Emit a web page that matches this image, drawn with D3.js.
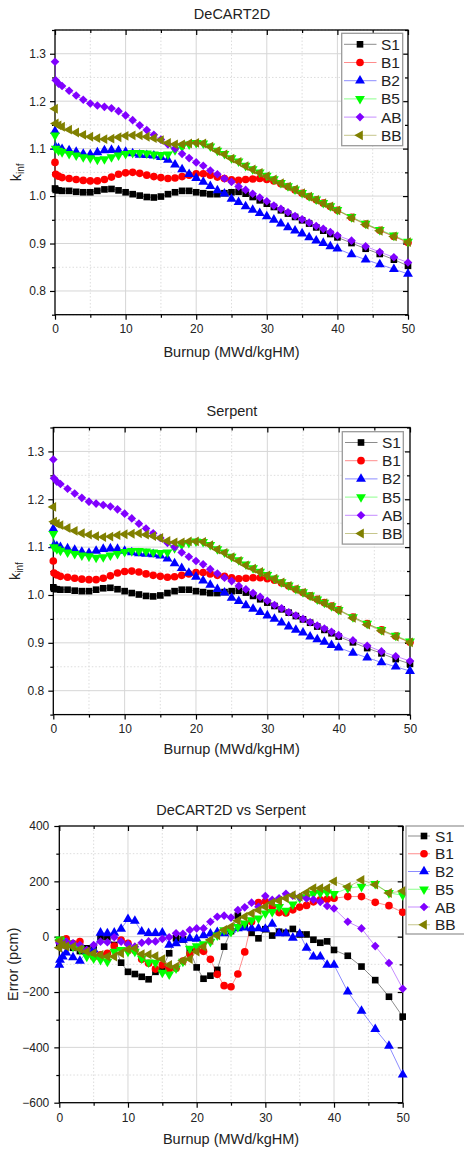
<!DOCTYPE html>
<html><head><meta charset="utf-8">
<script src="https://cdn.jsdelivr.net/npm/d3@7"></script>
<style>
body{margin:0;background:#fff}
svg{display:block}
text{font-family:"Liberation Sans",Arial,sans-serif;fill:#222}
</style>
</head><body>
<svg id="c" width="464" height="1151"></svg>
<script>
// ---------- DATA ----------
const burnup = [0,0.1,0.5,1,2,3,4,5,6,7,8,9,10,11,12,13,14,15,16,17,18,19,20,21,22,23,24,25,26,27,28,29,30,31,32,33,34,35,36,37,38,39,40,42,44,46,48,50];
const seriesNames = ["S1","B1","B2","B5","AB","BB"];
const xTicks = [0,10,20,30,40,50];
const kinfTicks = [0.8,0.9,1.0,1.1,1.2,1.3];
const errTicks = [-600,-400,-200,0,200,400];

// DeCART2D kinf
const decartS1 = [1.016,1.013,1.012,1.011,1.011,1.009,1.008,1.008,1.011,1.014,1.015,1.012,1.008,1.004,1.001,0.998,0.997,0.999,1.004,1.008,1.011,1.011,1.008,1.006,1.004,1.004,1.006,1.008,1.009,1.005,0.998,0.991,0.984,0.977,0.970,0.963,0.956,0.949,0.942,0.934,0.927,0.920,0.913,0.901,0.889,0.878,0.866,0.853];
const decartB1 = [1.071,1.046,1.042,1.039,1.037,1.035,1.033,1.032,1.032,1.035,1.040,1.046,1.049,1.050,1.048,1.044,1.041,1.039,1.037,1.038,1.041,1.044,1.047,1.047,1.044,1.040,1.037,1.034,1.033,1.035,1.036,1.037,1.035,1.032,1.026,1.020,1.013,1.006,0.999,0.992,0.985,0.978,0.970,0.955,0.941,0.928,0.915,0.902];
const decartB2 = [1.137,1.103,1.101,1.099,1.096,1.093,1.089,1.088,1.092,1.096,1.097,1.096,1.093,1.090,1.087,1.086,1.085,1.082,1.076,1.066,1.056,1.046,1.038,1.030,1.021,1.012,1.005,0.994,0.987,0.978,0.971,0.964,0.957,0.950,0.942,0.934,0.927,0.921,0.913,0.906,0.901,0.894,0.889,0.877,0.866,0.856,0.846,0.836];
const decartB5 = [1.128,1.100,1.096,1.093,1.089,1.086,1.082,1.080,1.077,1.078,1.082,1.086,1.089,1.091,1.091,1.090,1.088,1.087,1.088,1.097,1.104,1.109,1.112,1.111,1.105,1.096,1.089,1.080,1.073,1.064,1.057,1.050,1.043,1.036,1.028,1.021,1.014,1.007,1.000,0.993,0.986,0.979,0.971,0.956,0.942,0.929,0.917,0.904];
const decartAB = [1.283,1.244,1.237,1.232,1.222,1.212,1.203,1.195,1.191,1.188,1.185,1.179,1.170,1.160,1.149,1.139,1.129,1.119,1.109,1.100,1.089,1.080,1.071,1.064,1.054,1.046,1.037,1.030,1.020,1.013,1.005,0.997,0.989,0.980,0.973,0.966,0.958,0.951,0.944,0.937,0.931,0.924,0.917,0.906,0.894,0.882,0.871,0.860];
const decartBB = [1.184,1.153,1.149,1.146,1.140,1.134,1.129,1.125,1.122,1.120,1.121,1.124,1.127,1.128,1.128,1.125,1.122,1.118,1.112,1.109,1.109,1.111,1.112,1.111,1.104,1.095,1.088,1.079,1.072,1.063,1.056,1.049,1.042,1.035,1.027,1.020,1.014,1.006,0.999,0.992,0.985,0.978,0.970,0.954,0.940,0.927,0.915,0.903];

// Serpent kinf
const serpentS1 = [1.016,1.013,1.012,1.011,1.011,1.009,1.008,1.008,1.011,1.014,1.015,1.012,1.008,1.004,1.001,0.998,0.997,0.999,1.004,1.008,1.011,1.011,1.008,1.006,1.004,1.004,1.006,1.008,1.009,1.005,0.998,0.991,0.984,0.977,0.970,0.963,0.956,0.949,0.942,0.934,0.927,0.920,0.913,0.901,0.889,0.878,0.866,0.856];
const serpentB1 = [1.071,1.046,1.042,1.039,1.037,1.035,1.033,1.032,1.032,1.035,1.040,1.046,1.049,1.050,1.048,1.044,1.041,1.039,1.037,1.038,1.041,1.044,1.047,1.047,1.044,1.041,1.039,1.036,1.034,1.035,1.036,1.036,1.034,1.031,1.025,1.019,1.012,1.005,0.998,0.991,0.984,0.977,0.969,0.954,0.940,0.927,0.914,0.901];
const serpentB2 = [1.138,1.104,1.102,1.100,1.097,1.094,1.090,1.088,1.092,1.096,1.097,1.096,1.092,1.089,1.087,1.086,1.085,1.082,1.076,1.066,1.056,1.046,1.038,1.030,1.021,1.012,1.005,0.994,0.987,0.978,0.971,0.964,0.957,0.950,0.942,0.934,0.927,0.921,0.913,0.907,0.902,0.895,0.890,0.879,0.869,0.859,0.850,0.841];
const serpentB5 = [1.128,1.100,1.096,1.093,1.089,1.086,1.083,1.081,1.078,1.079,1.083,1.086,1.090,1.092,1.092,1.091,1.089,1.088,1.089,1.098,1.105,1.109,1.112,1.111,1.105,1.096,1.089,1.080,1.073,1.064,1.056,1.049,1.042,1.035,1.027,1.020,1.013,1.006,0.999,0.991,0.984,0.977,0.969,0.954,0.940,0.927,0.915,0.903];
const serpentAB = [1.283,1.244,1.237,1.232,1.222,1.212,1.203,1.195,1.191,1.188,1.185,1.179,1.170,1.160,1.149,1.139,1.129,1.119,1.109,1.100,1.089,1.080,1.071,1.064,1.054,1.045,1.036,1.029,1.019,1.012,1.004,0.996,0.988,0.979,0.972,0.964,0.957,0.950,0.943,0.936,0.930,0.923,0.916,0.905,0.894,0.882,0.872,0.862];
const serpentBB = [1.184,1.153,1.149,1.146,1.140,1.134,1.129,1.126,1.123,1.121,1.122,1.125,1.127,1.128,1.129,1.126,1.123,1.119,1.113,1.110,1.110,1.112,1.112,1.111,1.104,1.095,1.088,1.079,1.071,1.062,1.055,1.048,1.041,1.034,1.026,1.019,1.012,1.005,0.997,0.990,0.983,0.976,0.968,0.952,0.938,0.925,0.913,0.901];

// DeCART2D vs Serpent error (pcm)
const errS1 = [-30,-20,-25,-30,-40,-52,-42,-46,-2,-2,-30,-94,-127,-135,-145,-154,-127,-115,-60,-6,-10,-50,-111,-152,-141,-120,-36,20,76,40,14,-6,27,4,18,14,28,8,8,-11,-22,-17,-48,-69,-108,-157,-217,-289];
const errB1 = [-15,-20,-12,-8,-25,-18,-50,-73,-66,-60,-34,-12,-24,-50,-82,-96,-117,-102,-117,-114,-88,-63,-48,-53,-82,-136,-177,-181,-135,-55,54,123,127,108,87,86,97,107,113,126,133,135,139,145,145,124,112,88];
const errB2 = [-102,-84,-72,-58,-75,-88,-54,-46,14,12,14,28,63,57,18,13,13,14,-30,-24,-12,-6,-8,5,11,16,12,25,30,33,30,30,28,46,12,12,-4,10,-41,-72,-72,-102,-102,-199,-268,-334,-395,-499];
const errB5 = [-18,-10,-15,-22,-36,-45,-72,-78,-84,-90,-54,-48,-54,-54,-78,-93,-94,-130,-136,-114,-90,-43,-34,-27,-19,5,24,18,36,48,60,66,84,90,108,94,117,140,143,155,158,160,155,175,181,191,158,150];
const errAB = [-22,-25,-28,-18,-24,-30,-48,-30,-18,-20,-2,-18,-27,-36,-22,-17,-17,-8,-2,12,10,24,30,30,54,72,76,69,96,106,123,108,147,133,139,155,148,143,138,134,126,111,102,54,30,-34,-95,-188];
const errBB = [-40,-15,-30,-35,-36,-45,-54,-60,-66,-72,-72,-60,-46,-42,-63,-64,-70,-81,-102,-108,-87,-81,-54,-36,-12,5,24,36,58,72,84,96,108,123,130,139,150,145,160,175,175,175,200,180,205,188,158,165];

// ---------- STYLE ----------
const colors = {S1:"#000000",B1:"#ff0000",B2:"#0000ff",B5:"#00ff00",AB:"#8000ff",BB:"#808000"};
const sq = d3.symbol().type(d3.symbolSquare).size(44)();
const circ = d3.symbol().type(d3.symbolCircle).size(46)();
const tri = d3.symbol().type(d3.symbolTriangle).size(42)();
const markers = {
  S1:{d:sq,rot:0}, B1:{d:circ,rot:0}, B2:{d:tri,rot:0},
  B5:{d:tri,rot:180}, AB:{d:sq,rot:45,scale:0.92}, BB:{d:tri,rot:-90}
};

const svg = d3.select("#c");

function drawPanel(o){
  const g = svg.append("g");
  const x = d3.scaleLinear().domain([0,50]).range([o.x0,o.x1]);
  const y = d3.scaleLinear().domain(o.yDomain).range([o.y1,o.y0]);
  // grid
  const minorX = [5,15,25,35,45];
  g.append("g").selectAll("line").data(minorX).join("line")
    .attr("x1",d=>x(d)).attr("x2",d=>x(d)).attr("y1",o.y0).attr("y2",o.y1)
    .attr("stroke","#d4d4d4").attr("stroke-width",0.8).attr("stroke-dasharray","1.5,2");
  g.append("g").selectAll("line").data(o.yMinor).join("line")
    .attr("y1",d=>y(d)).attr("y2",d=>y(d)).attr("x1",o.x0).attr("x2",o.x1)
    .attr("stroke","#d4d4d4").attr("stroke-width",0.8).attr("stroke-dasharray","1.5,2");
  g.append("g").selectAll("line").data(xTicks.slice(1,-1)).join("line")
    .attr("x1",d=>x(d)).attr("x2",d=>x(d)).attr("y1",o.y0).attr("y2",o.y1)
    .attr("stroke","#d6d6d6").attr("stroke-width",1);
  g.append("g").selectAll("line").data(o.yTicks.filter(t=>y(t)>o.y0+1&&y(t)<o.y1-1)).join("line")
    .attr("y1",d=>y(d)).attr("y2",d=>y(d)).attr("x1",o.x0).attr("x2",o.x1)
    .attr("stroke","#d6d6d6").attr("stroke-width",1);

  // axes
  const styleAxis = sel=>{sel.select(".domain").remove();sel.selectAll("line").attr("stroke","#000").attr("stroke-width",1.2);
    sel.selectAll("text").style("font-size","12px").attr("fill","#222");};
  g.append("g").attr("transform",`translate(0,${o.y1})`)
    .call(d3.axisBottom(x).tickValues(xTicks).tickSize(5).tickPadding(o.xPad).tickFormat(d3.format("d"))).call(styleAxis);
  g.append("g").attr("transform",`translate(0,${o.y1})`)
    .call(d3.axisBottom(x).tickValues(minorX).tickSize(3).tickFormat("")).call(styleAxis);
  g.append("g").attr("transform",`translate(0,${o.y0})`)
    .call(d3.axisTop(x).tickValues(xTicks).tickSize(-5).tickFormat("")).call(styleAxis);
  g.append("g").attr("transform",`translate(0,${o.y0})`)
    .call(d3.axisTop(x).tickValues(minorX).tickSize(-3).tickFormat("")).call(styleAxis);
  g.append("g").attr("transform",`translate(${o.x0},0)`)
    .call(d3.axisLeft(y).tickValues(o.yTicks).tickSize(5).tickPadding(o.yPad).tickFormat(o.yFormat)).call(styleAxis);
  g.append("g").attr("transform",`translate(${o.x0},0)`)
    .call(d3.axisLeft(y).tickValues(o.yMinor).tickSize(3).tickFormat("")).call(styleAxis);
  g.append("g").attr("transform",`translate(${o.x1},0)`)
    .call(d3.axisRight(y).tickValues(o.yTicks).tickSize(-5).tickFormat("")).call(styleAxis);
  g.append("g").attr("transform",`translate(${o.x1},0)`)
    .call(d3.axisRight(y).tickValues(o.yMinor).tickSize(-3).tickFormat("")).call(styleAxis);
  g.append("rect").attr("x",o.x0).attr("y",o.y0).attr("width",o.x1-o.x0).attr("height",o.y1-o.y0)
    .attr("fill","none").attr("stroke","#000").attr("stroke-width",1.3);

  // series
  const line = d3.line().x((d,i)=>x(burnup[i])).y(d=>y(d));
  o.series.forEach((vals,si)=>{
    const name = seriesNames[si], c = colors[name], m = markers[name];
    g.append("path").datum(vals).attr("d",line).attr("fill","none")
      .attr("stroke",c).attr("stroke-opacity",0.45).attr("stroke-width",1);
    g.append("g").selectAll("path").data(vals).join("path")
      .attr("d",m.d).attr("fill",c)
      .attr("transform",(d,i)=>`translate(${x(burnup[i])},${y(d)}) rotate(${m.rot}) scale(${m.scale||1})`);
  });

  // title
  g.append("text").attr("x",o.titleX).attr("y",o.titleY).attr("text-anchor","middle")
    .style("font-size","14.5px").text(o.title);
  // x label
  g.append("text").attr("x",(o.x0+o.x1)/2).attr("y",o.xLabelY).attr("text-anchor","middle")
    .style("font-size","14.5px").text("Burnup (MWd/kgHM)");
  // y label
  const yl = g.append("text").attr("transform",`translate(${o.yLabelX},${(o.y0+o.y1)/2}) rotate(-90)`)
    .attr("text-anchor","middle").style("font-size","14.5px");
  if(o.kinf){
    yl.append("tspan").text("k");
    yl.append("tspan").attr("dy","0.3em").style("font-size","10px").text("inf");
  } else yl.text("Error (pcm)");

  // legend
  const L = o.legend;
  g.append("rect").attr("x",L.x).attr("y",L.y).attr("width",L.w).attr("height",L.h)
    .attr("fill","#fff").attr("stroke","#9a9a9a").attr("stroke-width",1.3);
  seriesNames.forEach((name,i)=>{
    const cy = L.row0 + i*L.step, c = colors[name], m = markers[name];
    g.append("line").attr("x1",L.l0).attr("x2",L.l1).attr("y1",cy).attr("y2",cy)
      .attr("stroke",c).attr("stroke-opacity",0.45).attr("stroke-width",1);
    g.append("path").attr("d",m.d).attr("fill",c)
      .attr("transform",`translate(${L.mx},${cy}) rotate(${m.rot}) scale(${m.scale||1})`);
    g.append("text").attr("x",L.tx).attr("y",cy).attr("dy","0.36em")
      .style("font-size","15.5px").text(name);
  });
}

const kMinor = [0.75,0.85,0.95,1.05,1.15,1.25,1.35];
drawPanel({title:"DeCART2D",titleX:232,titleY:18.5,x0:55,x1:408,y0:30,y1:314.7,
  yDomain:[0.75,1.35],yTicks:kinfTicks,yMinor:kMinor,yFormat:d3.format(".1f"),xPad:5,yPad:4,
  xLabelY:356.5,yLabelX:21,kinf:true,
  series:[decartS1,decartB1,decartB2,decartB5,decartAB,decartBB],
  legend:{x:341.7,y:33.3,w:61,h:112.4,row0:44.3,step:18.2,l0:344,l1:376.5,mx:360,tx:381}});

drawPanel({title:"Serpent",titleX:232,titleY:416,x0:53.3,x1:410,y0:427.5,y1:714.6,
  yDomain:[0.75,1.35],yTicks:kinfTicks,yMinor:kMinor,yFormat:d3.format(".1f"),xPad:5,yPad:4,
  xLabelY:754,yLabelX:19.5,kinf:true,
  series:[serpentS1,serpentB1,serpentB2,serpentB5,serpentAB,serpentBB],
  legend:{x:342.3,y:431.7,w:61,h:112.4,row0:442.5,step:18.2,l0:345,l1:377.5,mx:361,tx:382}});

drawPanel({title:"DeCART2D vs Serpent",titleX:231,titleY:815,x0:59.3,x1:402.7,y0:826,y1:1102.7,
  yDomain:[-600,400],yTicks:errTicks,yMinor:[-500,-300,-100,100,300],yFormat:d3.format("d"),xPad:6,yPad:5,
  xLabelY:1143.5,yLabelX:17.5,kinf:false,
  series:[errS1,errB1,errB2,errB5,errAB,errBB],
  legend:{x:406,y:826,w:70,h:108,row0:836,step:17.75,l0:408,l1:430,mx:424,tx:435}});
</script>
</body></html>
